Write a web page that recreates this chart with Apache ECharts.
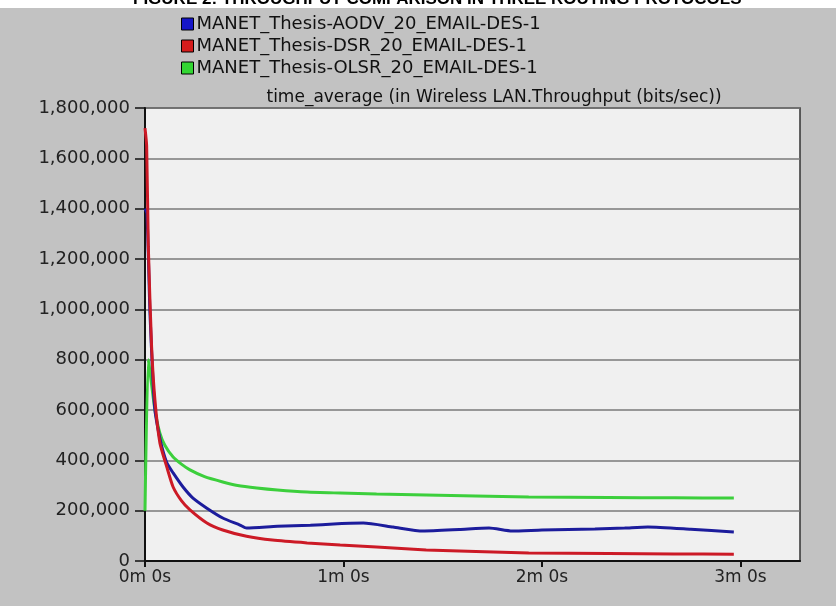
<!DOCTYPE html>
<html>
<head>
<meta charset="utf-8">
<script src="https://cdn.jsdelivr.net/npm/echarts@6/dist/echarts.min.js"></script>
<style>
html,body{margin:0;padding:0;background:#c2c2c2;}
#chart{width:836px;height:606px;}
</style>
</head>
<body>
<div id="chart"></div>
<script>
// ---- data ----
const seriesNames = [
  'MANET_Thesis-AODV_20_EMAIL-DES-1',
  'MANET_Thesis-DSR_20_EMAIL-DES-1',
  'MANET_Thesis-OLSR_20_EMAIL-DES-1'
];
// time in seconds
const aodvTimes  = [0, 0.6, 1.5, 2.4, 3, 4, 5.1, 6.6, 8.5, 11.5, 14.5, 18.7, 23.5, 28.7, 30.7, 40, 50, 57, 62, 66, 75, 84, 95, 104, 111, 120, 136, 145, 152, 165, 178];
const aodvValues = [1400000, 1380000, 985000, 720000, 600000, 520000, 453000, 390000, 350000, 294000, 250000, 210000, 171000, 143000, 131000, 138000, 142000, 147000, 150000, 151000, 135000, 119000, 125000, 131000, 119000, 123000, 127000, 131000, 135000, 126000, 115000];

const dsrTimes  = [0, 0.5, 1, 2, 3, 4.5, 6.6, 8.5, 11, 13.6, 18.7, 23.5, 30.7, 38.5, 49, 59, 70, 85, 100, 116, 140, 160, 178];
const dsrValues = [1720000, 1650000, 1250000, 850000, 640000, 469000, 373000, 294000, 240000, 203000, 151000, 123000, 98000, 83000, 72000, 64000, 56000, 44000, 38000, 32000, 30000, 28000, 27000];

const olsrTimes  = [0, 1, 2, 3, 4.5, 6, 8.5, 11, 13.6, 18, 23.5, 28, 33.8, 40, 49, 59, 70, 85, 100, 116, 140, 160, 178];
const olsrValues = [200000, 800000, 700000, 600000, 508000, 460000, 413000, 385000, 362000, 335000, 314000, 300000, 290000, 282000, 274000, 270000, 266000, 262000, 258000, 254000, 252000, 251000, 250000];

const xTickValues = [0, 60, 120, 180];

const titleText = 'FIGURE 2: THROUGHPUT COMPARISON IN THREE ROUTING PROTOCOLS';
const subtitleText = 'time_average (in Wireless LAN.Throughput (bits/sec))';

// ---- chart ----
const lineColors = ['#1c1c9c', '#cc1a26', '#3ccf3c'];
const legendColors = ['#1515c8', '#d41c1c', '#33d633'];

function zip(ts, vs){ return ts.map((t,i)=>[t, vs[i]]); }
function fmtTime(t){ return Math.floor(t/60) + 'm ' + (t%60) + 's'; }

const chart = echarts.init(document.getElementById('chart'), null, {renderer:'canvas'});
const font = '"DejaVu Sans", sans-serif';

chart.setOption({
  backgroundColor: '#c2c2c2',
  animation: false,
  graphic: [
    {type:'rect', left:0, top:0, shape:{width:836, height:8}, style:{fill:'#ffffff'}, silent:true},
    {type:'text', left:133, top:-9, style:{text:titleText, fill:'#000', font:'bold 17px "Liberation Sans", Arial, sans-serif'}, silent:true}
  ],
  title: {
    text: subtitleText,
    left: 489, top: 84, textAlign:'center',
    textStyle: {fontFamily: font, fontSize: 17, fontWeight:'normal', color:'#111'}
  },
  legend: {
    orient: 'vertical',
    left: 176, top: 10,
    icon: 'rect',
    itemWidth: 12, itemHeight: 12, itemGap: 4,
    textStyle: {fontFamily: font, fontSize: 18, color:'#111', padding:[0,0,0,-2]},
    data: seriesNames.map((n,i)=>({name:n, itemStyle:{color:legendColors[i], borderColor:'#000', borderWidth:1}}))
  },
  grid: {
    left: 145, right: 36, top: 108, bottom: 45,
    show: true, backgroundColor: '#f0f0f0', borderColor: '#333', borderWidth: 1.5
  },
  xAxis: {
    type: 'value', min: 0, max: 198, interval: 60,
    axisLine: {show:true, lineStyle:{color:'#111', width:2}},
    axisTick: {show:true, length:6, customValues: xTickValues, lineStyle:{color:'#111', width:2}},
    axisLabel: {customValues: xTickValues, formatter: v => fmtTime(v), fontFamily: font, fontSize: 17, color:'#222', margin: 8},
    splitLine: {show:false}
  },
  yAxis: {
    type: 'value', min: 0, max: 1800000, interval: 200000,
    axisLine: {show:true, lineStyle:{color:'#111', width:2}},
    axisTick: {show:true, length:10, lineStyle:{color:'#111', width:1.5}},
    axisLabel: {formatter: v => v.toLocaleString('en-US'), fontFamily: font, fontSize: 18, color:'#222', margin: 15},
    splitLine: {show:true, lineStyle:{color:'#7a7a7a', width:1.5}}
  },
  series: [
    {name: seriesNames[0], type:'line', data: zip(aodvTimes, aodvValues), showSymbol:false, smooth:0.2, lineStyle:{color:lineColors[0], width:3}, itemStyle:{color:legendColors[0]}, z:3},
    {name: seriesNames[1], type:'line', data: zip(dsrTimes, dsrValues), showSymbol:false, smooth:0.2, lineStyle:{color:lineColors[1], width:3}, itemStyle:{color:legendColors[1]}, z:4},
    {name: seriesNames[2], type:'line', data: zip(olsrTimes, olsrValues), showSymbol:false, smooth:0.2, lineStyle:{color:lineColors[2], width:3}, itemStyle:{color:legendColors[2]}, z:2}
  ]
});
</script>
</body>
</html>
